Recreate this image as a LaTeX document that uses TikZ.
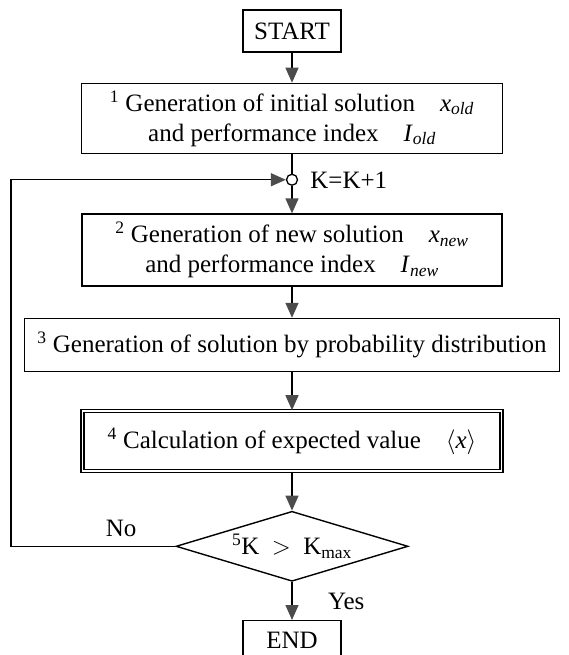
\documentclass[tikz,border=0pt]{standalone}
\usepackage{fontspec}
\setmainfont{Liberation Serif}
\usetikzlibrary{shapes.geometric, positioning, arrows.meta}

\begin{document}
\begin{tikzpicture}[
    x=1pt, y=1pt,
    every node/.style={align=center, font=\fontsize{25}{30}\selectfont},
    procbox/.style={rectangle, draw, line width=1.4pt, inner sep=2pt},
    termbox/.style={procbox, minimum width=98pt, minimum height=42pt},
    decision/.style={diamond, draw, line width=1.4pt, inner sep=0pt, aspect=3.3, minimum width=232pt, minimum height=70pt},
    joint/.style={circle, draw, line width=1.3pt, minimum size=11pt, inner sep=0pt},
    flow/.style={line width=1.4pt, -{Triangle[width=13pt, length=15pt, color=black!70]}},
    plain line/.style={line width=1.4pt}
]
\useasboundingbox (0,0) rectangle (568,-655);

% Nodes
\node[termbox] (start) at (292,-31) {START};
\node[procbox, minimum width=421pt, minimum height=70pt, below=30pt of start] (initsol)
    {\textsuperscript{1} Generation of initial solution\quad \textit{x}\textsubscript{\textit{old}}\\
     and performance index\quad \textit{I}\textsubscript{\textit{old}}};
\node[joint, below=19.5pt of initsol] (kinc) {};
\node[right=12pt of kinc, inner sep=0pt] (kinctext) {K=K+1};
\node[procbox, minimum width=420pt, minimum height=72pt, below=27.5pt of kinc] (newsol)
    {\textsuperscript{2} Generation of new solution\quad \textit{x}\textsubscript{\textit{new}}\\
     and performance index\quad \textit{I}\textsubscript{\textit{new}}};
\node[procbox, minimum width=535pt, minimum height=53pt, below=31pt of newsol] (probsol)
    {\textsuperscript{3} Generation of solution by probability distribution};
\node[procbox, double, double distance=1.6pt, minimum width=419pt, minimum height=60pt, below=38pt of probsol] (expval)
    {\textsuperscript{4} Calculation of expected value\quad $\langle$\textit{x}$\rangle$};
\node[decision, below=39pt of expval] (cond) {\textsuperscript{5}K\ \ $>$\ \ K\textsubscript{max}};
\node[termbox, minimum height=40pt, below=38pt of cond] (end) {END};
\coordinate (loopx) at (11,0);

% Edges
\draw[flow] (start) -- (initsol);
\draw[plain line] (initsol) -- (kinc);
\draw[flow] (kinc) -- (newsol);
\draw[flow] (newsol) -- (probsol);
\draw[flow] (probsol) -- (expval);
\draw[flow] (expval) -- (cond);
\draw[flow] (cond) -- node[right, xshift=32pt] {Yes} (end);
\draw[flow] (cond.west) -- node[pos=0.33, above, yshift=6pt] {No} (cond.west -| loopx) |- (kinc.west);

\end{tikzpicture}
\end{document}
